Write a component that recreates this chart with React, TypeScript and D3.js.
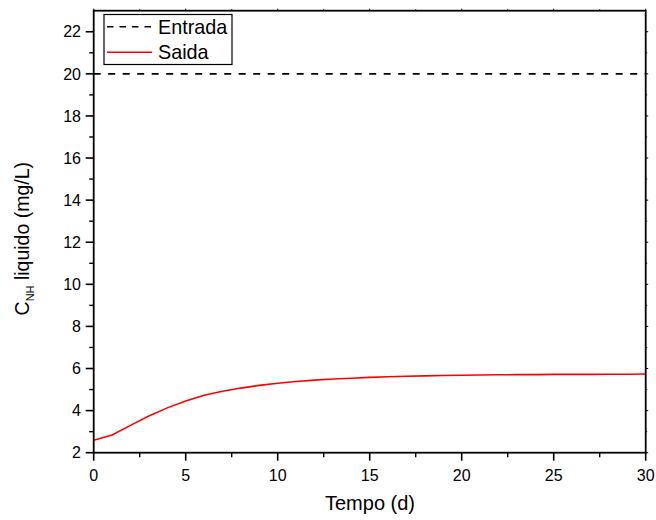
import React from "react";
import * as d3 from "d3";

const days = [0, 1, 2, 3, 4, 5, 6, 7, 8, 9, 10, 11, 12, 13, 14, 15, 16, 17, 18, 19, 20, 21, 22, 23, 24, 25, 26, 27, 28, 29, 30];
const saida = [2.59, 2.84, 3.3, 3.74, 4.13, 4.46, 4.73, 4.92, 5.07, 5.2, 5.3, 5.38, 5.45, 5.5, 5.54, 5.58, 5.61, 5.63, 5.65, 5.67, 5.68, 5.69, 5.7, 5.71, 5.71, 5.72, 5.72, 5.72, 5.73, 5.73, 5.74];
const entradaValue = 20;
const xTicks = [0, 5, 10, 15, 20, 25, 30];
const yTicks = [2, 4, 6, 8, 10, 12, 14, 16, 18, 20, 22];
const legendLabels = ["Entrada", "Saida"];

const W = 656, H = 520;
const L = 93.7, R = 645.7, T = 10.7, B = 452.7;
const FONT = "'Liberation Sans', Arial, sans-serif";

export default function App() {
  const x = d3.scaleLinear().domain([0, 30]).range([L, R]);
  const y = d3.scaleLinear().domain([2, 23]).range([B, T]);
  const line = d3.line<number>().x((_, i) => x(days[i])).y((d) => y(d));
  const xMinor = d3.range(0, 30.01, 2.5).filter((v) => !xTicks.includes(v));
  const yMinor = d3.range(3, 23, 2);

  return (
    <svg width={W} height={H} style={{ position: "absolute", left: 0, top: 0, background: "#fff" }} fontFamily={FONT}>
      {/* data */}
      <line x1={x(0)} x2={x(30)} y1={y(entradaValue)} y2={y(entradaValue)} stroke="#000" strokeWidth={1.6} strokeDasharray="7,7.5" />
      <path d={line(saida) || ""} fill="none" stroke="#ff0000" strokeWidth={1.6} />

      {/* frame */}
      <rect x={L} y={T} width={R - L} height={B - T} fill="none" stroke="#000" strokeWidth={1.8} />

      {/* bottom ticks */}
      {xTicks.map((v) => (
        <g key={"xt" + v}>
          <line x1={x(v)} x2={x(v)} y1={B} y2={B + 8} stroke="#000" strokeWidth={1.6} />
          <line x1={x(v)} x2={x(v)} y1={T} y2={T - 2} stroke="#000" strokeWidth={1} />
          <text x={x(v)} y={481} textAnchor="middle" fontSize={16}>{v}</text>
        </g>
      ))}
      {xMinor.map((v) => (
        <g key={"xm" + v}>
          <line x1={x(v)} x2={x(v)} y1={B} y2={B + 4.5} stroke="#000" strokeWidth={1.4} />
          <line x1={x(v)} x2={x(v)} y1={T} y2={T - 1.5} stroke="#000" strokeWidth={1} />
        </g>
      ))}
      {/* left ticks */}
      {yTicks.map((v) => (
        <g key={"yt" + v}>
          <line x1={L} x2={L - 8} y1={y(v)} y2={y(v)} stroke="#000" strokeWidth={1.6} />
          <line x1={R} x2={R + 2.5} y1={y(v)} y2={y(v)} stroke="#000" strokeWidth={1} />
          <text x={81} y={y(v) + 5.7} textAnchor="end" fontSize={16}>{v}</text>
        </g>
      ))}
      {yMinor.map((v) => (
        <g key={"ym" + v}>
          <line x1={L} x2={L - 4.5} y1={y(v)} y2={y(v)} stroke="#000" strokeWidth={1.4} />
          <line x1={R} x2={R + 1.5} y1={y(v)} y2={y(v)} stroke="#000" strokeWidth={1} />
        </g>
      ))}

      {/* axis titles */}
      <text x={370} y={510} textAnchor="middle" fontSize={20}>Tempo (d)</text>
      <text transform={`translate(29, ${(T + B) / 2 + 7}) rotate(-90)`} textAnchor="middle" fontSize={19.5}>
        C<tspan fontSize={11} dy={5}>NH</tspan><tspan dy={-5}> liquido (mg/L)</tspan>
      </text>

      {/* legend */}
      <rect x={104} y={14.5} width={128} height={50} fill="#fff" stroke="#000" strokeWidth={1.2} />
      <line x1={107} x2={152} y1={26.7} y2={26.7} stroke="#000" strokeWidth={1.6} strokeDasharray="6.5,6" />
      <text x={158} y={33.5} fontSize={19.8}>{legendLabels[0]}</text>
      <line x1={107} x2={152} y1={52.3} y2={52.3} stroke="#ff0000" strokeWidth={1.6} />
      <text x={158} y={59} fontSize={19.8}>{legendLabels[1]}</text>
    </svg>
  );
}
